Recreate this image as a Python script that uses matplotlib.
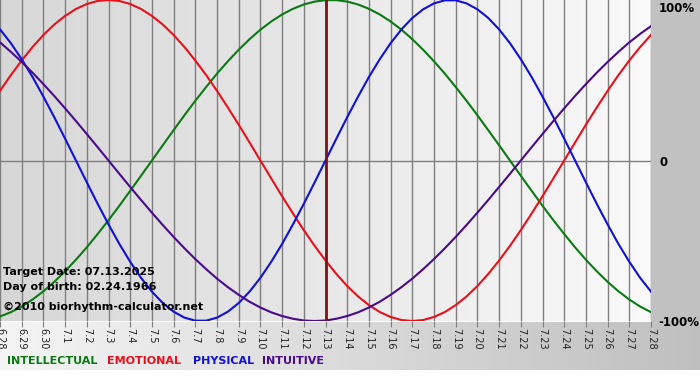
import matplotlib
matplotlib.use("Agg")
import matplotlib.pyplot as plt
import numpy as np

# Days shown (June 28 .. July 28), target day in the middle
day_labels = ["6.28", "6.29", "6.30", "7.1", "7.2", "7.3", "7.4", "7.5", "7.6", "7.7",
              "7.8", "7.9", "7.10", "7.11", "7.12", "7.13", "7.14", "7.15", "7.16", "7.17",
              "7.18", "7.19", "7.20", "7.21", "7.22", "7.23", "7.24", "7.25", "7.26", "7.27",
              "7.28"]
target_day = "7.13"

# Cycle values every half day (-1 .. 1), 6.28 through 7.28
intellectual = [-0.972, -0.945, -0.910, -0.866, -0.815, -0.756, -0.690, -0.618, -0.541, -0.458,
                -0.372, -0.282, -0.189, -0.095, 0.000, 0.095, 0.189, 0.282, 0.372, 0.458,
                0.541, 0.618, 0.690, 0.756, 0.815, 0.866, 0.910, 0.945, 0.972, 0.990,
                0.999, 0.999, 0.990, 0.972, 0.945, 0.910, 0.866, 0.815, 0.756, 0.690,
                0.618, 0.541, 0.458, 0.372, 0.282, 0.189, 0.095, 0.000, -0.095, -0.189,
                -0.282, -0.372, -0.458, -0.541, -0.618, -0.690, -0.756, -0.815, -0.866, -0.910,
                -0.945]
emotional = [0.434, 0.532, 0.623, 0.707, 0.782, 0.847, 0.901, 0.944, 0.975, 0.994,
             1.000, 0.994, 0.975, 0.944, 0.901, 0.847, 0.782, 0.707, 0.623, 0.532,
             0.434, 0.330, 0.223, 0.112, 0.000, -0.112, -0.223, -0.330, -0.434, -0.532,
             -0.623, -0.707, -0.782, -0.847, -0.901, -0.944, -0.975, -0.994, -1.000, -0.994,
             -0.975, -0.944, -0.901, -0.847, -0.782, -0.707, -0.623, -0.532, -0.434, -0.330,
             -0.223, -0.112, 0.000, 0.112, 0.223, 0.330, 0.434, 0.532, 0.623, 0.707,
             0.782]
physical = [0.817, 0.731, 0.631, 0.520, 0.398, 0.270, 0.136, 0.000, -0.136, -0.270,
            -0.398, -0.520, -0.631, -0.731, -0.817, -0.888, -0.942, -0.979, -0.998, -0.998,
            -0.979, -0.942, -0.888, -0.817, -0.731, -0.631, -0.520, -0.398, -0.270, -0.136,
            0.000, 0.136, 0.270, 0.398, 0.520, 0.631, 0.731, 0.817, 0.888, 0.942,
            0.979, 0.998, 0.998, 0.979, 0.942, 0.888, 0.817, 0.731, 0.631, 0.520,
            0.398, 0.270, 0.136, 0.000, -0.136, -0.270, -0.398, -0.520, -0.631, -0.731,
            -0.817]
intuitive = [0.736, 0.677, 0.614, 0.547, 0.476, 0.402, 0.325, 0.246, 0.165, 0.083,
             0.000, -0.083, -0.165, -0.246, -0.325, -0.402, -0.476, -0.547, -0.614, -0.677,
             -0.736, -0.789, -0.837, -0.880, -0.916, -0.946, -0.969, -0.986, -0.997, -1.000,
             -0.997, -0.986, -0.969, -0.946, -0.916, -0.880, -0.837, -0.789, -0.736, -0.677,
             -0.614, -0.547, -0.476, -0.402, -0.325, -0.246, -0.165, -0.083, 0.000, 0.083,
             0.165, 0.246, 0.325, 0.402, 0.476, 0.547, 0.614, 0.677, 0.736, 0.789,
             0.837]

series_names = ["INTELLECTUAL", "EMOTIONAL", "PHYSICAL", "INTUITIVE"]
series_colors = ["#0a7a12", "#e8101a", "#1010d8", "#4a0a8a"]

W, H = 700, 380
fig = plt.figure(figsize=(W / 100, H / 100), dpi=100)

# Background panel: grey strip on the right, gradient band under the axis
bg = fig.add_axes([0, 0, 1, 1], zorder=-10)
img = np.ones((H, W, 3))
img[:322, 651:, :] = 0.76
band = np.linspace(0.96, 0.75, W)
img[322:370, :, :] = band[None, :, None]
bg.imshow(img, aspect="auto", extent=(0, W, H, 0))
bg.set_xlim(0, W)
bg.set_ylim(H, 0)
bg.axis("off")

ax = fig.add_axes([0, 1 - 321 / H, 651 / W, 321 / H])
x = np.arange(len(day_labels))
xs = np.arange(len(physical)) / 2.0   # half-day sample positions
ax.set_xlim(0, len(day_labels) - 1)
ax.set_ylim(-1.0, 1.0)

# plot area gradient (grey left -> near white right)
grad = np.linspace(0.84, 0.975, 200)[None, :]
ax.imshow(grad, cmap="gray", vmin=0, vmax=1, aspect="auto",
          extent=(0, len(day_labels) - 1, -1, 1), zorder=0)

for xi in x:
    ax.axvline(xi, color="#7f7f7f", lw=1.0, zorder=1)
ax.axhline(0, color="#7f7f7f", lw=1.0, zorder=1)

for vals, col in zip([intellectual, emotional, physical, intuitive], series_colors):
    ax.plot(xs, vals, color=col, lw=1.5, zorder=3, solid_joinstyle="round")

ax.axvline(day_labels.index(target_day), color="#7a1414", lw=2.0, zorder=4)

ax.set_xticks(x)
ax.set_xticklabels(day_labels, rotation=270, fontsize=7, color="#222222",
                   va="top", ha="center")
ax.tick_params(axis="x", length=4, color="#7f7f7f", pad=1)
ax.set_yticks([])
for s in ax.spines.values():
    s.set_visible(False)

# right side percentage labels
fig.text(659 / W, 1 - 8 / H, "100%", fontsize=8.5, weight="bold", va="center", ha="left")
fig.text(659 / W, 1 - 162 / H, "0", fontsize=8.5, weight="bold", va="center", ha="left")
fig.text(658 / W, 1 - 322 / H, "-100%", fontsize=8.5, weight="bold", va="center", ha="left")

# info text inside the plot
fig.text(3 / W, 1 - 272 / H, "Target Date: 07.13.2025", fontsize=8, weight="bold", va="center")
fig.text(3 / W, 1 - 287 / H, "Day of birth: 02.24.1966", fontsize=8, weight="bold", va="center")
fig.text(3 / W, 1 - 307 / H, "\u00a92010 biorhythm-calculator.net", fontsize=8, weight="bold", va="center")

# legend row
legend_x = [7, 107, 193, 262]
for name, col, lx in zip(series_names, series_colors, legend_x):
    fig.text(lx / W, 1 - 361 / H, name, fontsize=8, color=col, weight="bold", va="center")

fig.savefig("out.png", dpi=100)
